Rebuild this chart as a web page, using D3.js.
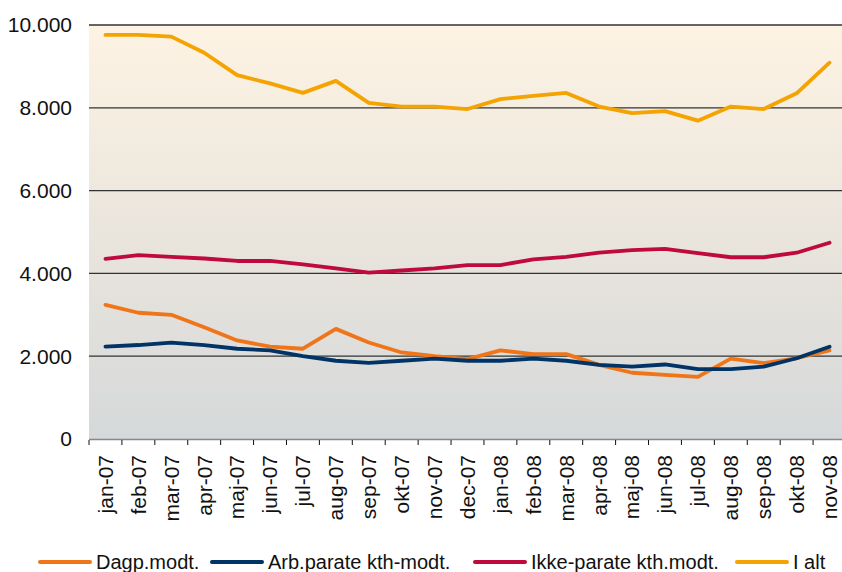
<!DOCTYPE html>
<html>
<head>
<meta charset="utf-8">
<script src="https://cdn.jsdelivr.net/npm/d3@7"></script>
<style>
  body { margin: 0; background: #fff; }
  svg { display: block; font-family: "Liberation Sans", Arial, sans-serif; }
</style>
</head>
<body>
<div id="chart"></div>
<script>
// Months on the x axis
var months = ["jan-07", "feb-07", "mar-07", "apr-07", "maj-07", "jun-07", "jul-07", "aug-07",
    "sep-07", "okt-07", "nov-07", "dec-07", "jan-08", "feb-08", "mar-08", "apr-08",
    "maj-08", "jun-08", "jul-08", "aug-08", "sep-08", "okt-08", "nov-08"];

// Series values
var dagp = [3240, 3050, 3000, 2700, 2380, 2230, 2180, 2660, 2330, 2090, 2000, 1930,
    2140, 2050, 2050, 1790, 1600, 1550, 1500, 1940, 1830, 1950, 2140];
var arbParate = [2230, 2270, 2330, 2270, 2180, 2140, 2000, 1890, 1840, 1890, 1940, 1890,
    1890, 1940, 1890, 1790, 1750, 1800, 1690, 1690, 1750, 1950, 2230];
var ikkeParate = [4350, 4440, 4400, 4360, 4300, 4300, 4220, 4120, 4020, 4070, 4120, 4200,
    4200, 4340, 4400, 4500, 4560, 4590, 4490, 4390, 4390, 4500, 4740];
var iAlt = [9760, 9760, 9720, 9330, 8790, 8590, 8360, 8650, 8120, 8030, 8030, 7970,
    8210, 8290, 8360, 8030, 7870, 7920, 7690, 8030, 7970, 8350, 9090];

var yTicks = [0, 2000, 4000, 6000, 8000, 10000];

var seriesNames = ["Dagp.modt.", "Arb.parate kth-modt.", "Ikke-parate kth.modt.", "I alt"];
var seriesColors = ["#f07418", "#003366", "#be0a3c", "#f5a300"];
var seriesValues = [dagp, arbParate, ikkeParate, iAlt];

var width = 842, height = 572;
var plotLeft = 89, plotRight = 846, plotTop = 25, plotBottom = 439;

var svg = d3.select("#chart").append("svg")
    .attr("width", width)
    .attr("height", height);

var x = d3.scaleBand()
    .domain(months)
    .range([plotLeft, plotRight]);

var y = d3.scaleLinear()
    .domain([0, 10000])
    .range([plotBottom, plotTop]);

// Background gradient
var defs = svg.append("defs");
var grad = defs.append("linearGradient")
    .attr("id", "bg")
    .attr("x1", 0).attr("y1", 0)
    .attr("x2", 0).attr("y2", 1);
grad.append("stop").attr("offset", "0%").attr("stop-color", "#fdf3e3");
grad.append("stop").attr("offset", "55%").attr("stop-color", "#e8e4dc");
grad.append("stop").attr("offset", "100%").attr("stop-color", "#d5d8da");

svg.append("rect")
    .attr("x", plotLeft)
    .attr("y", plotTop)
    .attr("width", plotRight - plotLeft)
    .attr("height", plotBottom - plotTop)
    .attr("fill", "url(#bg)");

// Gridlines
svg.append("g")
    .selectAll("line")
    .data(yTicks.filter(d => d > 0))
    .enter()
    .append("line")
    .attr("x1", plotLeft)
    .attr("x2", plotRight)
    .attr("y1", d => y(d))
    .attr("y2", d => y(d))
    .attr("stroke", "#333")
    .attr("stroke-width", 1.3);

// Y axis labels
svg.append("g")
    .selectAll("text")
    .data(yTicks)
    .enter()
    .append("text")
    .attr("x", 72)
    .attr("y", d => y(d))
    .attr("dy", "0.35em")
    .attr("text-anchor", "end")
    .attr("font-size", 21)
    .attr("fill", "#111")
    .text(d => d3.format(",")(d).replace(/,/g, "."));

// X axis line and ticks
svg.append("line")
    .attr("x1", plotLeft)
    .attr("x2", plotRight)
    .attr("y1", plotBottom + 0.5)
    .attr("y2", plotBottom + 0.5)
    .attr("stroke", "#888")
    .attr("stroke-width", 1.5);

var tickPos = months.map(m => x(m)).concat([plotRight]);
svg.append("g")
    .selectAll("line")
    .data(tickPos)
    .enter()
    .append("line")
    .attr("x1", d => d)
    .attr("x2", d => d)
    .attr("y1", plotBottom + 1)
    .attr("y2", plotBottom + 6)
    .attr("stroke", "#111")
    .attr("stroke-width", 1);

// X labels, rotated
svg.append("g")
    .selectAll("text")
    .data(months)
    .enter()
    .append("text")
    .attr("transform", d => "translate(" + (x(d) + x.bandwidth() / 2) + "," + 455 + ") rotate(-90)")
    .attr("dy", "0.35em")
    .attr("text-anchor", "end")
    .attr("font-size", 21)
    .attr("fill", "#111")
    .text(d => d);

// Lines
var line = d3.line()
    .x((d, i) => x(months[i]) + x.bandwidth() / 2)
    .y(d => y(d));

svg.append("g")
    .selectAll("path")
    .data(seriesValues)
    .enter()
    .append("path")
    .attr("d", d => line(d))
    .attr("fill", "none")
    .attr("stroke", (d, i) => seriesColors[i])
    .attr("stroke-width", 3.8)
    .attr("stroke-linejoin", "round")
    .attr("stroke-linecap", "round");

// Legend
var legendX = [40, 212, 475, 737];
var legend = svg.append("g")
    .selectAll("g")
    .data(seriesNames)
    .enter()
    .append("g")
    .attr("transform", (d, i) => "translate(" + legendX[i] + "," + 562 + ")");

legend.append("line")
    .attr("x1", 0)
    .attr("x2", 50)
    .attr("stroke", (d, i) => seriesColors[i])
    .attr("stroke-width", 4)
    .attr("stroke-linecap", "round");

legend.append("text")
    .attr("x", 56)
    .attr("dy", "0.35em")
    .attr("font-size", 20)
    .attr("fill", "#111")
    .text(d => d);
</script>
</body>
</html>
